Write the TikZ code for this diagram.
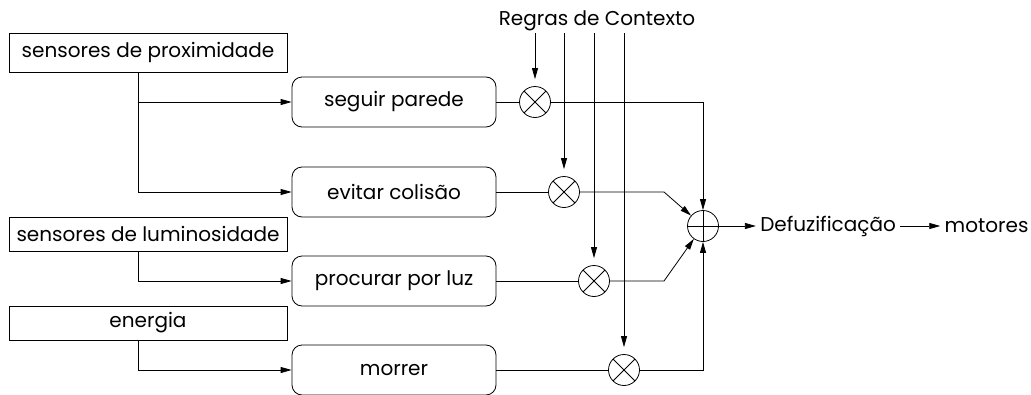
\documentclass[tikz,border=0pt]{standalone}
\usepackage{fontspec}
\setmainfont{Poppins}
\usetikzlibrary{arrows.meta,positioning}
\begin{document}
\begin{tikzpicture}[x=1pt,y=-1pt,line width=0.8pt,>={Triangle[length=11pt,width=6pt]},font=\fontsize{20}{24}\selectfont]
	\tikzstyle{sensor box}=[draw,minimum width=278pt,minimum height=34pt,inner sep=0]
	\tikzstyle{behaviour box}=[draw,rounded corners=10pt,minimum width=204pt,minimum height=50pt,inner sep=0]
	\tikzstyle{product node}=[circle,draw,minimum size=31pt,inner sep=0,
		path picture={\draw(path picture bounding box.north west)--(path picture bounding box.south east)
			(path picture bounding box.north east)--(path picture bounding box.south west);}]
	\tikzstyle{sum node}=[circle,draw,minimum size=31pt,inner sep=0,
		path picture={\draw(path picture bounding box.north)--(path picture bounding box.south)
			(path picture bounding box.east)--(path picture bounding box.west);}]
	\tikzstyle{label node}=[inner xsep=4pt,inner ysep=0]
	\useasboundingbox(0,0)rectangle(1031,394);
	\node(prox)[sensor box,minimum height=39pt]at(148,52.5){sensores de proximidade};
	\node(lum)[sensor box]at(148,234){sensores de luminosidade};
	\node(energia)[sensor box]at(148,323){energia};
	\node(seguir)[behaviour box]at(394,102){seguir parede};
	\node(evitar)[behaviour box]at(394,192){evitar colisão};
	\node(procurar)[behaviour box]at(394,281){procurar por luz};
	\node(morrer)[behaviour box]at(394,370){morrer};
	\node(regras)[minimum height=24pt,inner sep=0]at(597,21){Regras de Contexto};
	\node(p1)[product node]at(535,102){};
	\node(p2)[product node]at(564,192){};
	\node(p3)[product node]at(594,281){};
	\node(p4)[product node]at(624,370){};
	\node(sum)[sum node]at(703,226){};
	\node(defuz)[label node,right=37pt of sum]{Defuzificação};
	\node(motores)[label node,right=40pt of defuz]{motores};
	\coordinate(bend2)at(664,192);
	\coordinate(bend3)at(664,281);
	\draw[->]([xshift=-10pt]prox.south)|-(seguir);
	\draw[->]([xshift=-10pt]prox.south)|-(evitar);
	\draw[->]([xshift=-10pt]lum.south)|-(procurar);
	\draw[->]([xshift=-10pt]energia.south)|-(morrer);
	\draw(seguir)--(p1);
	\draw(evitar)--(p2);
	\draw(procurar)--(p3);
	\draw(morrer)--(p4);
	\foreach \p in {p1,p2,p3,p4}
		\draw[->,shorten >=7pt](regras.south-|\p)--(\p);
	\draw[->](p1)-|(sum);
	\draw[->](p2)--(bend2)--(sum);
	\draw[->](p3)--(bend3)--(sum);
	\draw[->](p4)-|(sum);
	\draw[->](sum)--(defuz);
	\draw[->](defuz)--(motores);
\end{tikzpicture}
\end{document}
